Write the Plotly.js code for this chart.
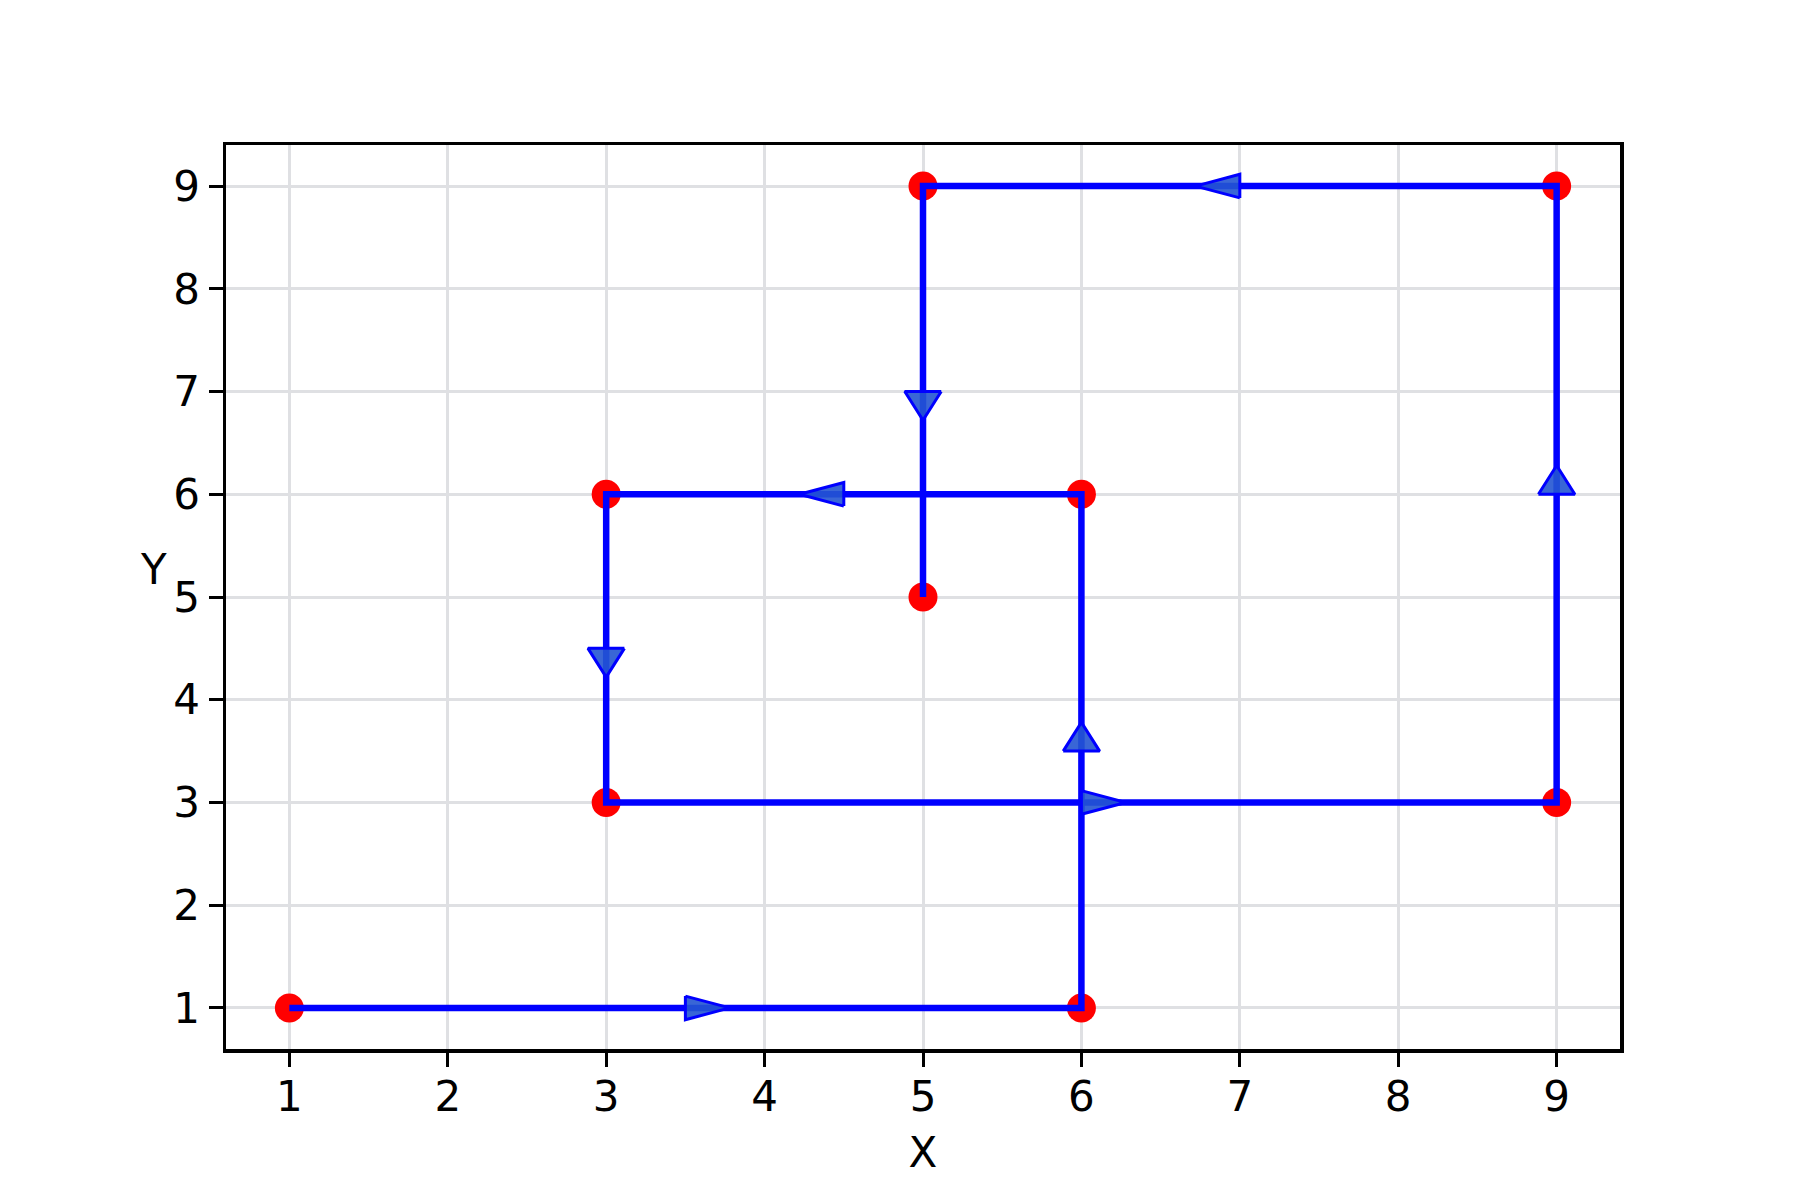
<!DOCTYPE html>
<html>
<head>
<meta charset="utf-8">
<script src="https://cdn.plot.ly/plotly-3.0.1.min.js"></script>
<style>
  body { margin: 0; background: #fff; }
  #plot { width: 1800px; height: 1200px; }
</style>
</head>
<body>
<div id="plot"></div>
<script>
// path visited, in order
var pathX = [1, 6, 6, 3, 3, 9, 9, 5, 5];
var pathY = [1, 1, 6, 6, 3, 3, 9, 9, 5];

var tickVals = [1, 2, 3, 4, 5, 6, 7, 8, 9];

// arrow head size in data units (like plt.arrow)
var headLen = 0.28;
var headWid = 0.23;

// build one filled triangle per segment, base at the segment midpoint
var arrowX = [];
var arrowY = [];
for (var i = 0; i < pathX.length - 1; i++) {
    var dx = pathX[i + 1] - pathX[i];
    var dy = pathY[i + 1] - pathY[i];
    var len = Math.sqrt(dx * dx + dy * dy);
    var ux = dx / len, uy = dy / len;
    var mx = (pathX[i] + pathX[i + 1]) / 2;
    var my = (pathY[i] + pathY[i + 1]) / 2;
    var px = -uy, py = ux;
    arrowX.push(mx + px * headWid / 2, mx + ux * headLen, mx - px * headWid / 2, mx + px * headWid / 2, null);
    arrowY.push(my + py * headWid / 2, my + uy * headLen, my - py * headWid / 2, my + py * headWid / 2, null);
}

var dots = {
    x: pathX,
    y: pathY,
    mode: 'markers',
    marker: { color: 'red', size: 29 },
    hoverinfo: 'skip'
};

var path = {
    x: pathX,
    y: pathY,
    mode: 'lines',
    line: { color: 'blue', width: 6.5 }
};

var heads = {
    x: arrowX,
    y: arrowY,
    mode: 'lines',
    fill: 'toself',
    fillcolor: 'rgba(35, 85, 210, 0.9)',
    line: { color: 'blue', width: 3 },
    hoverinfo: 'skip'
};

var axisStyle = {
    range: [0.6, 9.4],
    tickvals: tickVals,
    ticks: 'outside',
    ticklen: 14,
    tickwidth: 3,
    tickcolor: 'black',
    showline: true,
    linecolor: 'black',
    linewidth: 3.5,
    mirror: true,
    showgrid: true,
    gridcolor: '#dfe0e3',
    gridwidth: 3,
    zeroline: false,
    tickfont: { family: 'DejaVu Sans', size: 42, color: 'black' }
};

var layout = {
    width: 1800,
    height: 1200,
    margin: { l: 226, r: 180, t: 145, b: 151 },
    paper_bgcolor: 'white',
    plot_bgcolor: 'white',
    showlegend: false,
    xaxis: Object.assign({}, axisStyle, {
        ticklabelstandoff: -6,
        title: { text: 'X', font: { family: 'DejaVu Sans', size: 42, color: 'black' }, standoff: 18 }
    }),
    yaxis: Object.assign({}, axisStyle),
    annotations: [{
        text: 'Y',
        xref: 'paper', yref: 'paper',
        x: -0.052, y: 0.53,
        xanchor: 'center', yanchor: 'middle',
        showarrow: false,
        font: { family: 'DejaVu Sans', size: 42, color: 'black' }
    }]
};

Plotly.newPlot('plot', [dots, path, heads], layout, { staticPlot: true });
</script>
</body>
</html>
